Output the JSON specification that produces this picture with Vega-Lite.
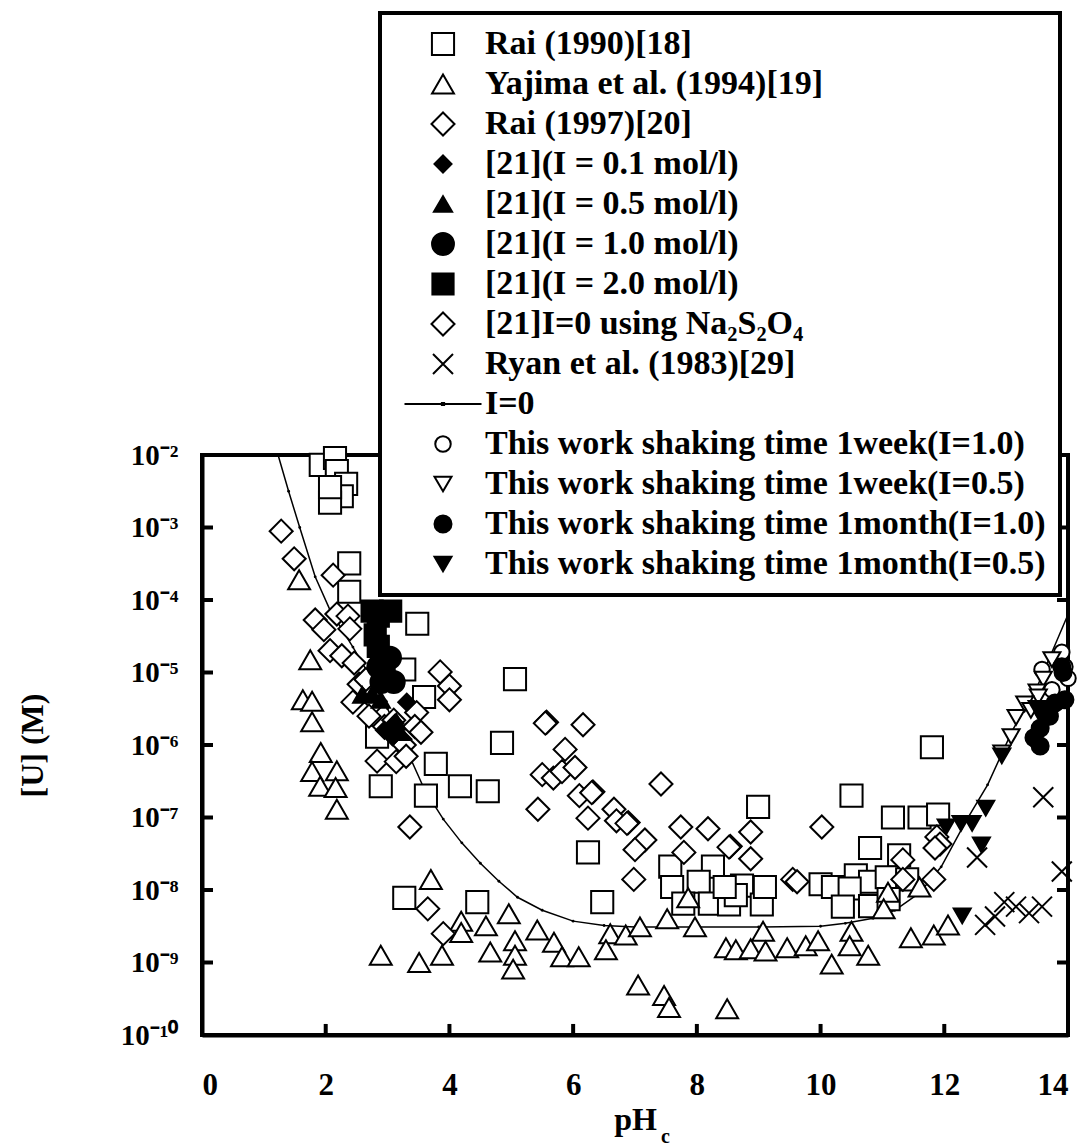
{
  "$schema": "https://vega.github.io/schema/vega-lite/v6.json",
  "width": 866,
  "height": 580,
  "autosize": {"type": "none"},
  "padding": {"left": 202, "top": 455, "right": 20, "bottom": 112},
  "background": "white",
  "config": {
    "font": "Liberation Serif",
    "view": {"stroke": "black", "strokeWidth": 4},
    "axis": {
      "grid": false,
      "labelFont": "Liberation Serif", "labelFontWeight": "bold", "labelColor": "black",
      "titleFont": "Liberation Serif", "titleFontWeight": "bold", "titleColor": "black"
    },
    "legend": {
      "orient": "none", "legendX": 178, "legendY": -442,
      "strokeColor": "black", "strokeWidth": 4, "fillColor": "white",
      "padding": 14, "labelFont": "Liberation Serif", "labelFontWeight": "bold",
      "labelFontSize": 34, "labelColor": "black", "labelLimit": 900,
      "symbolStrokeWidth": 2, "rowPadding": 6, "labelOffset": 25, "symbolOffset": 32
    }
  },
  "datasets": {
    "xticks": [{"pH": 2}, {"pH": 4}, {"pH": 6}, {"pH": 8}, {"pH": 10}, {"pH": 12}],
    "yticks": [{"U": 1e-3}, {"U": 1e-4}, {"U": 1e-5}, {"U": 1e-6}, {"U": 1e-7}, {"U": 1e-8}, {"U": 1e-9}],
    "curve": [
      {"pH": 1.23, "U": 1e-2}, {"pH": 1.40, "U": 3.16e-3}, {"pH": 1.58, "U": 1e-3},
      {"pH": 1.83, "U": 2.09e-4}, {"pH": 2.07, "U": 7.24e-5}, {"pH": 2.44, "U": 2.24e-5},
      {"pH": 2.75, "U": 7.94e-6}, {"pH": 3.0, "U": 3.16e-6}, {"pH": 3.3, "U": 8.9e-7},
      {"pH": 3.6, "U": 2.4e-7}, {"pH": 3.9, "U": 9.5e-8}, {"pH": 4.2, "U": 4.47e-8},
      {"pH": 4.5, "U": 2.34e-8}, {"pH": 4.8, "U": 1.32e-8}, {"pH": 5.1, "U": 7.94e-9},
      {"pH": 5.5, "U": 5.25e-9}, {"pH": 6.0, "U": 3.72e-9}, {"pH": 6.5, "U": 3.24e-9},
      {"pH": 7.0, "U": 3.09e-9}, {"pH": 8.0, "U": 3.09e-9}, {"pH": 9.0, "U": 3.09e-9},
      {"pH": 10.0, "U": 3.16e-9}, {"pH": 10.4, "U": 3.47e-9}, {"pH": 10.85, "U": 4.07e-9},
      {"pH": 11.2, "U": 5.25e-9}, {"pH": 11.6, "U": 9.12e-9}, {"pH": 11.95, "U": 2.09e-8},
      {"pH": 12.35, "U": 8.91e-8}, {"pH": 12.7, "U": 2.82e-7}, {"pH": 13.1, "U": 1.58e-6},
      {"pH": 13.5, "U": 6.31e-6}, {"pH": 14.0, "U": 6.31e-5}
    ],
    "pts": [
      {"series": "Rai (1990)[18]", "pH": 1.92, "U": 7.3e-3},
      {"series": "Rai (1990)[18]", "pH": 2.15, "U": 9.1e-3},
      {"series": "Rai (1990)[18]", "pH": 2.18, "U": 6e-3},
      {"series": "Rai (1990)[18]", "pH": 2.33, "U": 4e-3},
      {"series": "Rai (1990)[18]", "pH": 2.26, "U": 2.7e-3},
      {"series": "Rai (1990)[18]", "pH": 2.07, "U": 2.2e-3},
      {"series": "Rai (1990)[18]", "pH": 2.07, "U": 3.6e-3},
      {"series": "Rai (1990)[18]", "pH": 2.38, "U": 3.2e-4},
      {"series": "Rai (1990)[18]", "pH": 2.38, "U": 1.3e-4},
      {"series": "Rai (1990)[18]", "pH": 3.48, "U": 4.7e-5},
      {"series": "Rai (1990)[18]", "pH": 3.27, "U": 1.1e-5},
      {"series": "Rai (1990)[18]", "pH": 3.59, "U": 4.6e-6},
      {"series": "Rai (1990)[18]", "pH": 2.83, "U": 1.3e-6},
      {"series": "Rai (1990)[18]", "pH": 2.89, "U": 2.7e-7},
      {"series": "Rai (1990)[18]", "pH": 3.62, "U": 2e-7},
      {"series": "Rai (1990)[18]", "pH": 3.78, "U": 5.5e-7},
      {"series": "Rai (1990)[18]", "pH": 4.17, "U": 2.7e-7},
      {"series": "Rai (1990)[18]", "pH": 4.62, "U": 2.3e-7},
      {"series": "Rai (1990)[18]", "pH": 4.85, "U": 1.07e-6},
      {"series": "Rai (1990)[18]", "pH": 5.06, "U": 8.1e-6},
      {"series": "Rai (1990)[18]", "pH": 6.24, "U": 3.3e-8},
      {"series": "Rai (1990)[18]", "pH": 3.27, "U": 7.8e-9},
      {"series": "Rai (1990)[18]", "pH": 4.45, "U": 6.8e-9},
      {"series": "Rai (1990)[18]", "pH": 6.47, "U": 6.8e-9},
      {"series": "Rai (1990)[18]", "pH": 8.99, "U": 1.4e-7},
      {"series": "Rai (1990)[18]", "pH": 7.57, "U": 2.1e-8},
      {"series": "Rai (1990)[18]", "pH": 8.26, "U": 2.1e-8},
      {"series": "Rai (1990)[18]", "pH": 7.6, "U": 1.1e-8},
      {"series": "Rai (1990)[18]", "pH": 8.03, "U": 1.3e-8},
      {"series": "Rai (1990)[18]", "pH": 8.73, "U": 1.15e-8},
      {"series": "Rai (1990)[18]", "pH": 7.78, "U": 6.5e-9},
      {"series": "Rai (1990)[18]", "pH": 8.21, "U": 6.5e-9},
      {"series": "Rai (1990)[18]", "pH": 8.52, "U": 6.3e-9},
      {"series": "Rai (1990)[18]", "pH": 8.63, "U": 8.5e-9},
      {"series": "Rai (1990)[18]", "pH": 9.05, "U": 6.3e-9},
      {"series": "Rai (1990)[18]", "pH": 9.1, "U": 1.1e-8},
      {"series": "Rai (1990)[18]", "pH": 8.45, "U": 1.1e-8},
      {"series": "Rai (1990)[18]", "pH": 11.8, "U": 9.3e-7},
      {"series": "Rai (1990)[18]", "pH": 10.5, "U": 2e-7},
      {"series": "Rai (1990)[18]", "pH": 11.17, "U": 1e-7},
      {"series": "Rai (1990)[18]", "pH": 11.6, "U": 1e-7},
      {"series": "Rai (1990)[18]", "pH": 11.9, "U": 1.1e-7},
      {"series": "Rai (1990)[18]", "pH": 10.8, "U": 3.8e-8},
      {"series": "Rai (1990)[18]", "pH": 11.27, "U": 3e-8},
      {"series": "Rai (1990)[18]", "pH": 10.0, "U": 1.2e-8},
      {"series": "Rai (1990)[18]", "pH": 10.2, "U": 1.1e-8},
      {"series": "Rai (1990)[18]", "pH": 10.57, "U": 1.6e-8},
      {"series": "Rai (1990)[18]", "pH": 10.8, "U": 1.3e-8},
      {"series": "Rai (1990)[18]", "pH": 11.07, "U": 1.5e-8},
      {"series": "Rai (1990)[18]", "pH": 11.4, "U": 1.4e-8},
      {"series": "Rai (1990)[18]", "pH": 10.47, "U": 1.05e-8},
      {"series": "Rai (1990)[18]", "pH": 10.36, "U": 5.9e-9},
      {"series": "Rai (1990)[18]", "pH": 10.8, "U": 6e-9},
      {"series": "Rai (1990)[18]", "pH": 11.1, "U": 7.5e-9},

      {"series": "Yajima et al. (1994)[19]", "pH": 1.57, "U": 1.9e-4},
      {"series": "Yajima et al. (1994)[19]", "pH": 1.75, "U": 1.5e-5},
      {"series": "Yajima et al. (1994)[19]", "pH": 1.63, "U": 4.2e-6},
      {"series": "Yajima et al. (1994)[19]", "pH": 1.78, "U": 4e-6},
      {"series": "Yajima et al. (1994)[19]", "pH": 1.78, "U": 2.1e-6},
      {"series": "Yajima et al. (1994)[19]", "pH": 1.92, "U": 7.9e-7},
      {"series": "Yajima et al. (1994)[19]", "pH": 1.78, "U": 4.3e-7},
      {"series": "Yajima et al. (1994)[19]", "pH": 2.18, "U": 4.4e-7},
      {"series": "Yajima et al. (1994)[19]", "pH": 1.91, "U": 2.7e-7},
      {"series": "Yajima et al. (1994)[19]", "pH": 2.16, "U": 2.6e-7},
      {"series": "Yajima et al. (1994)[19]", "pH": 2.18, "U": 1.3e-7},
      {"series": "Yajima et al. (1994)[19]", "pH": 3.70, "U": 1.4e-8},
      {"series": "Yajima et al. (1994)[19]", "pH": 2.89, "U": 1.26e-9},
      {"series": "Yajima et al. (1994)[19]", "pH": 3.51, "U": 1.0e-9},
      {"series": "Yajima et al. (1994)[19]", "pH": 3.88, "U": 1.26e-9},
      {"series": "Yajima et al. (1994)[19]", "pH": 4.19, "U": 3.7e-9},
      {"series": "Yajima et al. (1994)[19]", "pH": 4.19, "U": 2.6e-9},
      {"series": "Yajima et al. (1994)[19]", "pH": 4.59, "U": 3.2e-9},
      {"series": "Yajima et al. (1994)[19]", "pH": 4.96, "U": 4.7e-9},
      {"series": "Yajima et al. (1994)[19]", "pH": 4.66, "U": 1.4e-9},
      {"series": "Yajima et al. (1994)[19]", "pH": 5.06, "U": 2e-9},
      {"series": "Yajima et al. (1994)[19]", "pH": 5.06, "U": 1.26e-9},
      {"series": "Yajima et al. (1994)[19]", "pH": 5.03, "U": 8.1e-10},
      {"series": "Yajima et al. (1994)[19]", "pH": 5.42, "U": 2.8e-9},
      {"series": "Yajima et al. (1994)[19]", "pH": 5.69, "U": 1.9e-9},
      {"series": "Yajima et al. (1994)[19]", "pH": 5.82, "U": 1.2e-9},
      {"series": "Yajima et al. (1994)[19]", "pH": 6.09, "U": 1.2e-9},
      {"series": "Yajima et al. (1994)[19]", "pH": 6.6, "U": 2.5e-9},
      {"series": "Yajima et al. (1994)[19]", "pH": 6.85, "U": 2.4e-9},
      {"series": "Yajima et al. (1994)[19]", "pH": 7.08, "U": 3.1e-9},
      {"series": "Yajima et al. (1994)[19]", "pH": 6.53, "U": 1.5e-9},
      {"series": "Yajima et al. (1994)[19]", "pH": 7.05, "U": 4.9e-10},
      {"series": "Yajima et al. (1994)[19]", "pH": 7.47, "U": 3.5e-10},
      {"series": "Yajima et al. (1994)[19]", "pH": 7.55, "U": 2.4e-10},
      {"series": "Yajima et al. (1994)[19]", "pH": 8.49, "U": 2.3e-10},
      {"series": "Yajima et al. (1994)[19]", "pH": 7.52, "U": 4e-9},
      {"series": "Yajima et al. (1994)[19]", "pH": 7.86, "U": 7.8e-9},
      {"series": "Yajima et al. (1994)[19]", "pH": 7.97, "U": 3.1e-9},
      {"series": "Yajima et al. (1994)[19]", "pH": 8.47, "U": 1.6e-9},
      {"series": "Yajima et al. (1994)[19]", "pH": 8.63, "U": 1.5e-9},
      {"series": "Yajima et al. (1994)[19]", "pH": 8.87, "U": 1.55e-9},
      {"series": "Yajima et al. (1994)[19]", "pH": 9.07, "U": 2.7e-9},
      {"series": "Yajima et al. (1994)[19]", "pH": 9.11, "U": 1.44e-9},
      {"series": "Yajima et al. (1994)[19]", "pH": 9.46, "U": 1.6e-9},
      {"series": "Yajima et al. (1994)[19]", "pH": 9.76, "U": 1.7e-9},
      {"series": "Yajima et al. (1994)[19]", "pH": 9.96, "U": 2e-9},
      {"series": "Yajima et al. (1994)[19]", "pH": 10.5, "U": 2.7e-9},
      {"series": "Yajima et al. (1994)[19]", "pH": 10.47, "U": 1.7e-9},
      {"series": "Yajima et al. (1994)[19]", "pH": 10.18, "U": 9.5e-10},
      {"series": "Yajima et al. (1994)[19]", "pH": 10.77, "U": 1.26e-9},
      {"series": "Yajima et al. (1994)[19]", "pH": 11.09, "U": 9.3e-9},
      {"series": "Yajima et al. (1994)[19]", "pH": 11.02, "U": 5.5e-9},
      {"series": "Yajima et al. (1994)[19]", "pH": 11.6, "U": 1.1e-8},
      {"series": "Yajima et al. (1994)[19]", "pH": 11.46, "U": 2.2e-9},
      {"series": "Yajima et al. (1994)[19]", "pH": 11.83, "U": 2.4e-9},
      {"series": "Yajima et al. (1994)[19]", "pH": 12.06, "U": 3.3e-9},

      {"series": "Rai (1997)[20]", "pH": 1.28, "U": 8.9e-4},
      {"series": "Rai (1997)[20]", "pH": 1.49, "U": 3.7e-4},
      {"series": "Rai (1997)[20]", "pH": 2.12, "U": 2.2e-4},
      {"series": "Rai (1997)[20]", "pH": 1.83, "U": 5.3e-5},
      {"series": "Rai (1997)[20]", "pH": 1.97, "U": 3.9e-5},
      {"series": "Rai (1997)[20]", "pH": 2.18, "U": 6.4e-5},
      {"series": "Rai (1997)[20]", "pH": 2.36, "U": 6e-5},
      {"series": "Rai (1997)[20]", "pH": 2.39, "U": 4e-5},
      {"series": "Rai (1997)[20]", "pH": 2.07, "U": 2e-5},
      {"series": "Rai (1997)[20]", "pH": 2.26, "U": 1.7e-5},
      {"series": "Rai (1997)[20]", "pH": 2.46, "U": 1.35e-5},
      {"series": "Rai (1997)[20]", "pH": 2.54, "U": 6.9e-6},
      {"series": "Rai (1997)[20]", "pH": 2.44, "U": 3.9e-6},
      {"series": "Rai (1997)[20]", "pH": 2.65, "U": 8e-6},
      {"series": "Rai (1997)[20]", "pH": 2.8, "U": 4e-6},
      {"series": "Rai (1997)[20]", "pH": 2.7, "U": 2.5e-6},
      {"series": "Rai (1997)[20]", "pH": 2.95, "U": 1.8e-6},
      {"series": "Rai (1997)[20]", "pH": 3.1, "U": 2.2e-6},
      {"series": "Rai (1997)[20]", "pH": 3.2, "U": 1.2e-6},
      {"series": "Rai (1997)[20]", "pH": 3.85, "U": 1.02e-5},
      {"series": "Rai (1997)[20]", "pH": 4.0, "U": 6.5e-6},
      {"series": "Rai (1997)[20]", "pH": 4.0, "U": 4.2e-6},
      {"series": "Rai (1997)[20]", "pH": 3.47, "U": 2.8e-6},
      {"series": "Rai (1997)[20]", "pH": 2.83, "U": 6e-7},
      {"series": "Rai (1997)[20]", "pH": 3.14, "U": 5.9e-7},
      {"series": "Rai (1997)[20]", "pH": 3.27, "U": 1e-6},
      {"series": "Rai (1997)[20]", "pH": 3.44, "U": 1.8e-6},
      {"series": "Rai (1997)[20]", "pH": 3.54, "U": 1.5e-6},
      {"series": "Rai (1997)[20]", "pH": 3.3, "U": 7e-7},
      {"series": "Rai (1997)[20]", "pH": 3.36, "U": 7.4e-8},
      {"series": "Rai (1997)[20]", "pH": 3.65, "U": 5.5e-9},
      {"series": "Rai (1997)[20]", "pH": 3.9, "U": 2.5e-9},
      {"series": "Rai (1997)[20]", "pH": 6.16, "U": 1.9e-6},
      {"series": "Rai (1997)[20]", "pH": 5.87, "U": 8.7e-7},
      {"series": "Rai (1997)[20]", "pH": 5.5, "U": 3.9e-7},
      {"series": "Rai (1997)[20]", "pH": 5.68, "U": 3.5e-7},
      {"series": "Rai (1997)[20]", "pH": 5.82, "U": 4.3e-7},
      {"series": "Rai (1997)[20]", "pH": 6.03, "U": 4.9e-7},
      {"series": "Rai (1997)[20]", "pH": 5.43, "U": 1.3e-7},
      {"series": "Rai (1997)[20]", "pH": 6.1, "U": 2e-7},
      {"series": "Rai (1997)[20]", "pH": 6.24, "U": 9.8e-8},
      {"series": "Rai (1997)[20]", "pH": 7.42, "U": 2.9e-7},
      {"series": "Rai (1997)[20]", "pH": 6.66, "U": 1.3e-7},
      {"series": "Rai (1997)[20]", "pH": 6.7, "U": 9e-8},
      {"series": "Rai (1997)[20]", "pH": 7.16, "U": 4.9e-8},
      {"series": "Rai (1997)[20]", "pH": 7.0, "U": 3.6e-8},
      {"series": "Rai (1997)[20]", "pH": 6.98, "U": 1.4e-8},
      {"series": "Rai (1997)[20]", "pH": 7.74, "U": 7.4e-8},
      {"series": "Rai (1997)[20]", "pH": 8.18, "U": 7e-8},
      {"series": "Rai (1997)[20]", "pH": 8.87, "U": 6.3e-8},
      {"series": "Rai (1997)[20]", "pH": 8.87, "U": 2.7e-8},
      {"series": "Rai (1997)[20]", "pH": 7.79, "U": 3.3e-8},
      {"series": "Rai (1997)[20]", "pH": 9.55, "U": 1.4e-8},
      {"series": "Rai (1997)[20]", "pH": 10.02, "U": 7.4e-8},
      {"series": "Rai (1997)[20]", "pH": 9.62, "U": 1.3e-8},
      {"series": "Rai (1997)[20]", "pH": 11.33, "U": 2.6e-8},
      {"series": "Rai (1997)[20]", "pH": 11.33, "U": 1.4e-8},
      {"series": "Rai (1997)[20]", "pH": 11.88, "U": 5.4e-8},
      {"series": "Rai (1997)[20]", "pH": 11.93, "U": 4.3e-8},
      {"series": "Rai (1997)[20]", "pH": 11.85, "U": 3.8e-8},
      {"series": "Rai (1997)[20]", "pH": 11.83, "U": 1.4e-8},
      {"series": "Rai (1997)[20]", "pH": 5.57, "U": 2.06e-6},
      {"series": "Rai (1997)[20]", "pH": 6.32, "U": 2.26e-7},
      {"series": "Rai (1997)[20]", "pH": 6.89, "U": 8.5e-8},
      {"series": "Rai (1997)[20]", "pH": 8.54, "U": 4e-8},

      {"series": "[21]I=0 using Na₂S₂O₄", "pH": 5.55, "U": 2e-6},
      {"series": "[21]I=0 using Na₂S₂O₄", "pH": 6.3, "U": 2.2e-7},
      {"series": "[21]I=0 using Na₂S₂O₄", "pH": 6.87, "U": 8.3e-8},
      {"series": "[21]I=0 using Na₂S₂O₄", "pH": 8.52, "U": 3.9e-8},

      {"series": "Ryan et al. (1983)[29]", "pH": 13.6, "U": 1.9e-7},
      {"series": "Ryan et al. (1983)[29]", "pH": 12.53, "U": 2.8e-8},
      {"series": "Ryan et al. (1983)[29]", "pH": 13.9, "U": 1.8e-8},
      {"series": "Ryan et al. (1983)[29]", "pH": 12.66, "U": 3.3e-9},
      {"series": "Ryan et al. (1983)[29]", "pH": 12.82, "U": 4.3e-9},
      {"series": "Ryan et al. (1983)[29]", "pH": 12.97, "U": 6.8e-9},
      {"series": "Ryan et al. (1983)[29]", "pH": 13.16, "U": 5.9e-9},
      {"series": "Ryan et al. (1983)[29]", "pH": 13.37, "U": 4.8e-9},
      {"series": "Ryan et al. (1983)[29]", "pH": 13.58, "U": 5.9e-9},

      {"series": "This work shaking time 1week(I=1.0)", "pH": 13.9, "U": 1.9e-5},
      {"series": "This work shaking time 1week(I=1.0)", "pH": 13.58, "U": 1.1e-5},
      {"series": "This work shaking time 1week(I=1.0)", "pH": 13.74, "U": 5.8e-6},
      {"series": "This work shaking time 1week(I=1.0)", "pH": 14.0, "U": 8.3e-6},
      {"series": "This work shaking time 1week(I=1.0)", "pH": 13.95, "U": 1.2e-5},

      {"series": "This work shaking time 1week(I=0.5)", "pH": 13.74, "U": 1.5e-5},
      {"series": "This work shaking time 1week(I=0.5)", "pH": 13.6, "U": 8.1e-6},
      {"series": "This work shaking time 1week(I=0.5)", "pH": 13.5, "U": 5.4e-6},
      {"series": "This work shaking time 1week(I=0.5)", "pH": 13.52, "U": 4.6e-6},
      {"series": "This work shaking time 1week(I=0.5)", "pH": 13.3, "U": 3.7e-6},
      {"series": "This work shaking time 1week(I=0.5)", "pH": 13.4, "U": 3e-6},
      {"series": "This work shaking time 1week(I=0.5)", "pH": 13.16, "U": 2.4e-6},
      {"series": "This work shaking time 1week(I=0.5)", "pH": 13.08, "U": 1.3e-6},
      {"series": "This work shaking time 1week(I=0.5)", "pH": 12.93, "U": 7.8e-7},

      {"series": "[21](I = 0.1 mol/l)", "pH": 3.31, "U": 3.9e-6},
      {"series": "[21](I = 0.1 mol/l)", "pH": 3.12, "U": 2e-6},
      {"series": "[21](I = 0.1 mol/l)", "pH": 3.08, "U": 1.3e-6},
      {"series": "[21](I = 0.1 mol/l)", "pH": 2.95, "U": 1.6e-6},

      {"series": "[21](I = 0.5 mol/l)", "pH": 2.59, "U": 4.9e-6},
      {"series": "[21](I = 0.5 mol/l)", "pH": 2.89, "U": 4.2e-6},
      {"series": "[21](I = 0.5 mol/l)", "pH": 3.14, "U": 2.1e-6},
      {"series": "[21](I = 0.5 mol/l)", "pH": 3.2, "U": 1.5e-6},
      {"series": "[21](I = 0.5 mol/l)", "pH": 2.75, "U": 5e-6},

      {"series": "[21](I = 2.0 mol/l)", "pH": 2.75, "U": 7e-5},
      {"series": "[21](I = 2.0 mol/l)", "pH": 3.05, "U": 7e-5},
      {"series": "[21](I = 2.0 mol/l)", "pH": 2.85, "U": 6e-5},
      {"series": "[21](I = 2.0 mol/l)", "pH": 2.8, "U": 3.3e-5},
      {"series": "[21](I = 2.0 mol/l)", "pH": 2.85, "U": 2.3e-5},

      {"series": "[21](I = 1.0 mol/l)", "pH": 3.04, "U": 1.6e-5},
      {"series": "[21](I = 1.0 mol/l)", "pH": 3.1, "U": 7.4e-6},
      {"series": "[21](I = 1.0 mol/l)", "pH": 2.94, "U": 1.07e-5},
      {"series": "[21](I = 1.0 mol/l)", "pH": 2.9, "U": 7.4e-6},
      {"series": "[21](I = 1.0 mol/l)", "pH": 2.85, "U": 1.2e-5},

      {"series": "This work shaking time 1month(I=1.0)", "pH": 13.92, "U": 1e-5},
      {"series": "This work shaking time 1month(I=1.0)", "pH": 13.79, "U": 3.8e-6},
      {"series": "This work shaking time 1month(I=1.0)", "pH": 13.63, "U": 2.9e-6},
      {"series": "This work shaking time 1month(I=1.0)", "pH": 13.55, "U": 1.7e-6},
      {"series": "This work shaking time 1month(I=1.0)", "pH": 13.45, "U": 1.26e-6},
      {"series": "This work shaking time 1month(I=1.0)", "pH": 13.55, "U": 9.7e-7},
      {"series": "This work shaking time 1month(I=1.0)", "pH": 13.95, "U": 4.2e-6},
      {"series": "This work shaking time 1month(I=1.0)", "pH": 13.9, "U": 1.2e-5},
      {"series": "This work shaking time 1month(I=1.0)", "pH": 13.7, "U": 2.5e-6},

      {"series": "This work shaking time 1month(I=0.5)", "pH": 12.93, "U": 7.1e-7},
      {"series": "This work shaking time 1month(I=0.5)", "pH": 12.67, "U": 1.35e-7},
      {"series": "This work shaking time 1month(I=0.5)", "pH": 12.03, "U": 7.4e-8},
      {"series": "This work shaking time 1month(I=0.5)", "pH": 12.27, "U": 8.3e-8},
      {"series": "This work shaking time 1month(I=0.5)", "pH": 12.45, "U": 8.3e-8},
      {"series": "This work shaking time 1month(I=0.5)", "pH": 12.6, "U": 4.2e-8},
      {"series": "This work shaking time 1month(I=0.5)", "pH": 12.29, "U": 4.4e-9},
      {"series": "This work shaking time 1month(I=0.5)", "pH": 13.5, "U": 3.2e-6},
      {"series": "This work shaking time 1month(I=0.5)", "pH": 13.6, "U": 2.2e-6}
    ]
  },
  "layer": [
    {
      "data": {"name": "curve"},
      "mark": {"type": "line", "color": "black", "strokeWidth": 1.5, "point": {"filled": true, "size": 8, "color": "black"}},
      "encoding": {
        "x": {"field": "pH", "type": "quantitative",
          "scale": {"domain": [0, 14], "nice": false, "zero": false},
          "axis": null},
        "y": {"field": "U", "type": "quantitative",
          "scale": {"type": "log", "domain": [1e-10, 1e-2], "nice": false},
          "axis": null}
      }
    },
    {
      "data": {"name": "pts"},
      "mark": {"type": "point", "strokeWidth": 2, "opacity": 1},
      "encoding": {
        "x": {"field": "pH", "type": "quantitative",
          "scale": {"domain": [0, 14], "nice": false, "zero": false},
          "axis": {"orient": "bottom", "values": [0, 2, 4, 6, 8, 10, 12, 14], "format": "d",
            "ticks": false, "domain": true, "domainWidth": 4, "domainColor": "black",
            "labelFontSize": 31, "labelPadding": 35, "title": "pH", "titleFontSize": 32, "titleBaseline": "alphabetic", "titleY": 94}},
        "y": {"field": "U", "type": "quantitative",
          "scale": {"type": "log", "domain": [1e-10, 1e-2], "nice": false},
          "axis": {"orient": "left", "values": [1e-2, 1e-3, 1e-4, 1e-5, 1e-6, 1e-7, 1e-8, 1e-9, 1e-10],
            "ticks": false, "domain": true, "domainWidth": 4, "domainColor": "black",
            "labelExpr": "['10⁻²','10⁻³','10⁻⁴','10⁻⁵','10⁻⁶','10⁻⁷','10⁻⁸','10⁻⁹','10⁻¹⁰'][round(-log(datum.value)/LN10)-2]",
            "labelFontSize": 29, "labelPadding": 24,
            "title": "[U] (M)", "titleFontSize": 32, "titleAngle": 270, "titleX": -170, "titleY": 290, "titleAlign": "center", "titleBaseline": "middle"}},
        "shape": {"field": "series", "type": "nominal", "title": null,
          "scale": {
            "domain": ["Rai (1990)[18]", "Yajima et al. (1994)[19]", "Rai (1997)[20]", "[21](I = 0.1 mol/l)", "[21](I = 0.5 mol/l)", "[21](I = 1.0 mol/l)", "[21](I = 2.0 mol/l)", "[21]I=0 using Na₂S₂O₄", "Ryan et al. (1983)[29]", "I=0", "This work shaking time 1week(I=1.0)", "This work shaking time 1week(I=0.5)", "This work shaking time 1month(I=1.0)", "This work shaking time 1month(I=0.5)"],
            "range": ["square", "triangle-up", "diamond", "diamond", "triangle-up", "circle", "square", "diamond", "M-1,-1L1,1M-1,1L1,-1", "M-3.5,0H3.5M-0.1,-0.1H0.1V0.1H-0.1Z", "circle", "triangle-down", "circle", "triangle-down"]
          }},
        "fill": {"field": "series", "type": "nominal", "title": null,
          "scale": {
            "domain": ["Rai (1990)[18]", "Yajima et al. (1994)[19]", "Rai (1997)[20]", "[21](I = 0.1 mol/l)", "[21](I = 0.5 mol/l)", "[21](I = 1.0 mol/l)", "[21](I = 2.0 mol/l)", "[21]I=0 using Na₂S₂O₄", "Ryan et al. (1983)[29]", "I=0", "This work shaking time 1week(I=1.0)", "This work shaking time 1week(I=0.5)", "This work shaking time 1month(I=1.0)", "This work shaking time 1month(I=0.5)"],
            "range": ["white", "white", "white", "black", "black", "black", "black", "white", "white", "black", "white", "white", "black", "black"]
          }},
        "stroke": {"field": "series", "type": "nominal", "title": null,
          "scale": {
            "domain": ["Rai (1990)[18]", "Yajima et al. (1994)[19]", "Rai (1997)[20]", "[21](I = 0.1 mol/l)", "[21](I = 0.5 mol/l)", "[21](I = 1.0 mol/l)", "[21](I = 2.0 mol/l)", "[21]I=0 using Na₂S₂O₄", "Ryan et al. (1983)[29]", "I=0", "This work shaking time 1week(I=1.0)", "This work shaking time 1week(I=0.5)", "This work shaking time 1month(I=1.0)", "This work shaking time 1month(I=0.5)"],
            "range": ["black", "black", "black", "black", "black", "black", "black", "black", "black", "black", "black", "black", "black", "black"]
          }},
        "size": {"field": "series", "type": "nominal", "title": null,
          "scale": {"type": "ordinal",
            "domain": ["Rai (1990)[18]", "Yajima et al. (1994)[19]", "Rai (1997)[20]", "[21](I = 0.1 mol/l)", "[21](I = 0.5 mol/l)", "[21](I = 1.0 mol/l)", "[21](I = 2.0 mol/l)", "[21]I=0 using Na₂S₂O₄", "Ryan et al. (1983)[29]", "I=0", "This work shaking time 1week(I=1.0)", "This work shaking time 1week(I=0.5)", "This work shaking time 1month(I=1.0)", "This work shaking time 1month(I=0.5)"],
            "range": [490, 480, 530, 290, 330, 480, 450, 530, 400, 484, 240, 290, 290, 290]
          }}
      }
    },
    {
      "data": {"name": "xticks"},
      "mark": {"type": "rule", "stroke": "black", "strokeWidth": 4},
      "encoding": {
        "x": {"field": "pH", "type": "quantitative", "scale": {"domain": [0, 14], "nice": false, "zero": false}, "axis": null},
        "y": {"datum": 1e-10, "type": "quantitative", "scale": {"type": "log", "domain": [1e-10, 1e-2], "nice": false}, "axis": null},
        "y2": {"datum": 1.42e-10}
      }
    },
    {
      "data": {"name": "yticks"},
      "mark": {"type": "rule", "stroke": "black", "strokeWidth": 4},
      "encoding": {
        "x": {"datum": 0, "type": "quantitative", "scale": {"domain": [0, 14], "nice": false, "zero": false}, "axis": null},
        "x2": {"datum": 0.178},
        "y": {"field": "U", "type": "quantitative", "scale": {"type": "log", "domain": [1e-10, 1e-2], "nice": false}, "axis": null}
      }
    },
    {
      "data": {"name": "yticks"},
      "mark": {"type": "rule", "stroke": "black", "strokeWidth": 4},
      "encoding": {
        "x": {"datum": 13.822, "type": "quantitative", "scale": {"domain": [0, 14], "nice": false, "zero": false}, "axis": null},
        "x2": {"datum": 14},
        "y": {"field": "U", "type": "quantitative", "scale": {"type": "log", "domain": [1e-10, 1e-2], "nice": false}, "axis": null}
      }
    },
    {
      "data": {"values": [{"t": "c"}]},
      "mark": {"type": "text", "font": "Liberation Serif", "fontWeight": "bold", "fontSize": 20, "align": "left", "baseline": "middle", "color": "black"},
      "encoding": {
        "x": {"datum": 7.42, "type": "quantitative", "scale": {"domain": [0, 14], "nice": false, "zero": false}, "axis": null},
        "y": {"datum": 3.9e-12, "type": "quantitative", "scale": {"type": "log", "domain": [1e-10, 1e-2], "nice": false}, "axis": null},
        "text": {"field": "t"}
      }
    }
  ],
  "resolve": {"axis": {"x": "independent", "y": "independent"}}
}
